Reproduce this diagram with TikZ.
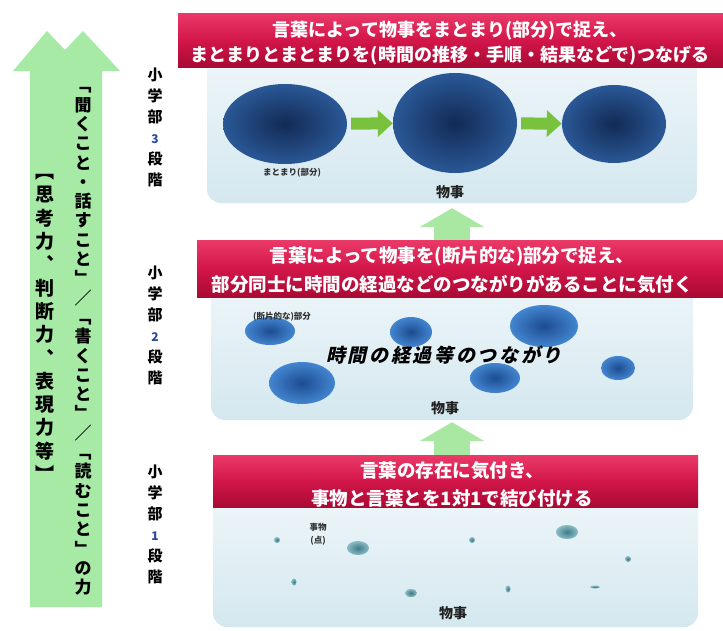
\documentclass[tikz,border=0pt]{standalone}
\usepackage{fontspec}
\setmainfont{Noto Sans CJK JP}
\newfontfamily\jpit[FakeSlant=0.22,LetterSpace=14]{Noto Sans CJK JP}
\usetikzlibrary{shapes.geometric,arrows.meta}
\definecolor{bannerTop}{HTML}{EA3A68}
\definecolor{bannerMid}{HTML}{D3164A}
\definecolor{bannerBot}{HTML}{A80A33}
\definecolor{panelTop}{HTML}{EEF6F9}
\definecolor{panelBot}{HTML}{D4E8EF}
\definecolor{bigGreen}{HTML}{A6EAA6}
\definecolor{upGreen}{HTML}{A9E8A2}
\definecolor{rightGreen}{HTML}{78C23E}
\definecolor{blueAin}{HTML}{122A55}
\definecolor{blueAout}{HTML}{2A5896}
\definecolor{blueBin}{HTML}{1C4C90}
\definecolor{blueBout}{HTML}{4385D0}
\definecolor{tealIn}{HTML}{3C7C88}
\definecolor{tealOut}{HTML}{8CBCC4}
\definecolor{thingText}{HTML}{222222}
\definecolor{smallText}{HTML}{333333}
\definecolor{numBlue}{HTML}{2A4A9A}
\tikzset{
  banner/.style={rectangle, inner sep=0pt, top color=bannerTop, bottom color=bannerBot, middle color=bannerMid},
  bannertext/.style={text=white, align=center, inner sep=0pt},
  panel/.style={rectangle, rounded corners=14pt, inner sep=0pt, top color=panelTop, bottom color=panelBot},
  blobA/.style={ellipse, inner sep=0pt, inner color=blueAin, outer color=blueAout},
  blobB/.style={ellipse, inner sep=0pt, inner color=blueBin, outer color=blueBout},
  blobC/.style={ellipse, inner sep=0pt, inner color=tealIn, outer color=tealOut},
  rarrow/.style={line width=12pt, draw=rightGreen, -{Triangle[length=15pt,width=26pt]}, shorten <=4pt},
  uparrow/.style={line width=36pt, draw=upGreen, -{Triangle[length=19pt,width=64pt]}},
  sidelabel/.style={align=center, font=\bfseries\fontsize{15}{21}\selectfont, inner sep=0pt},
  thing/.style={font=\bfseries\fontsize{14}{14}\selectfont, text=thingText, inner sep=0pt},
  smalllabel/.style={font=\bfseries\fontsize{8.5}{13}\selectfont, text=smallText, inner sep=0pt, align=center},
  vcol/.style={align=center, inner sep=0pt, text=black},
}
\begin{document}
\begin{tikzpicture}[x=1pt,y=-1pt]
\useasboundingbox (0,0) rectangle (723,630);
\fill[white] (0,0) rectangle (723,630);

% big left arrow
\fill[bigGreen] (30,607) -- (30,71) -- (13,71) -- (47,31) -- (65,50) -- (83,31) -- (120,71) -- (102,71) -- (102,607) -- cycle;
\node[vcol, font=\bfseries\fontsize{17}{19.3}\selectfont] (col1) at (83,341.5)
 {﹁\\聞\\く\\こ\\と\\・\\話\\す\\こ\\と\\﹂\\／\\﹁\\書\\く\\こ\\と\\﹂\\／\\﹁\\読\\む\\こ\\と\\﹂\\の\\力};
\node[vcol, font=\bfseries\fontsize{19}{23.3}\selectfont] (col2) at (45,328)
 {︻\\思\\考\\力\\︑\\判\\断\\力\\︑\\表\\現\\力\\等\\︼};

% side labels
\node[sidelabel] (s3) at (155,127) {小\\学\\部\\{\fontsize{12}{12}\selectfont\color{numBlue}3}\\段\\階};
\node[sidelabel] (s2) at (155,325) {小\\学\\部\\{\fontsize{12}{12}\selectfont\color{numBlue}2}\\段\\階};
\node[sidelabel] (s1) at (155,524) {小\\学\\部\\{\fontsize{12}{12}\selectfont\color{numBlue}1}\\段\\階};

% panels
\node[panel, minimum width=490pt, minimum height=148pt] (p3) at (452,129) {};
\node[panel, minimum width=482pt, minimum height=140pt] (p2) at (452,350) {};
\node[panel, minimum width=485pt, minimum height=132pt] (p1) at (455.5,561) {};

% up arrows
\draw[uparrow, shorten >=5pt] (p3.south |- 0,241) -- (p3.south);
\draw[uparrow, shorten >=2pt] (p2.south |- 0,456) -- (p2.south);

% banners
\node[banner, minimum width=545pt, minimum height=54pt] (b3) at (450.5,40) {};
\node[banner, minimum width=526pt, minimum height=57pt] (b2) at (460,268.5) {};
\node[banner, minimum width=485pt, minimum height=52pt] (b1) at (455.5,481) {};
\node[bannertext, font=\bfseries\fontsize{18}{25}\selectfont] (t3) at (450,43.5)
 {言葉によって物事をまとまり(部分)で捉え、\\まとまりとまとまりを(時間の推移・手順・結果などで)つなげる};
\node[bannertext, font=\bfseries\fontsize{18.5}{29}\selectfont] (t2) at (452,270.5)
 {言葉によって物事を(断片的な)部分で捉え、\\部分同士に時間の経過などのつながりがあることに気付く};
\node[bannertext, font=\bfseries\fontsize{18.5}{28}\selectfont] (t1) at (452,484)
 {言葉の存在に気付き、\\事物と言葉とを1対1で結び付ける};

% top panel content
\node[blobA, minimum width=124pt, minimum height=80pt] (a1) at (285,124) {};
\node[blobA, minimum width=124pt, minimum height=100pt] (a2) at (455,123) {};
\node[blobA, minimum width=104pt, minimum height=78pt] (a3) at (614,124) {};
\draw[rarrow] (a1) -- (a2);
\draw[rarrow] (a2) -- (a3);
\node[smalllabel] (l3) at (292,173) {まとまり(部分)};
\node[thing] (o3) at (450,192) {物事};

% middle panel content
\node[blobB, minimum width=50pt, minimum height=28pt] (m1) at (270,331) {};
\node[blobB, minimum width=42pt, minimum height=30pt] (m2) at (411,332) {};
\node[blobB, minimum width=68pt, minimum height=42pt] (m3) at (544,326) {};
\node[blobB, minimum width=66pt, minimum height=42pt] (m4) at (302,383) {};
\node[blobB, minimum width=50pt, minimum height=30pt] (m5) at (495,378) {};
\node[blobB, minimum width=34pt, minimum height=24pt] (m6) at (618,368) {};
\node[smalllabel] (l2) at (282,317) {(断片的な)部分};
\node[inner sep=0pt, font=\jpit\bfseries\fontsize{19}{19}\selectfont] (c2) at (444,355) {時間の経過等のつながり};
\node[thing] (o2) at (445,408) {物事};

% bottom panel content
\node[blobC, minimum width=6pt, minimum height=6pt] (d1) at (277,540) {};
\node[blobC, minimum width=22pt, minimum height=14pt] (d2) at (358,548) {};
\node[blobC, minimum width=6pt, minimum height=6pt] (d3) at (472,540) {};
\node[blobC, minimum width=22pt, minimum height=14pt] (d4) at (567,532) {};
\node[blobC, minimum width=6pt, minimum height=6pt] (d5) at (628,559) {};
\node[blobC, minimum width=5pt, minimum height=7pt] (d6) at (294,582) {};
\node[blobC, minimum width=12pt, minimum height=8pt] (d7) at (411,593) {};
\node[blobC, minimum width=5pt, minimum height=7pt] (d8) at (508,589) {};
\node[blobC, minimum width=10pt, minimum height=3pt] (d9) at (595,587) {};
\node[smalllabel] (l1) at (318,534) {事物\\(点)};
\node[thing] (o1) at (453,613) {物事};
\end{tikzpicture}
\end{document}
